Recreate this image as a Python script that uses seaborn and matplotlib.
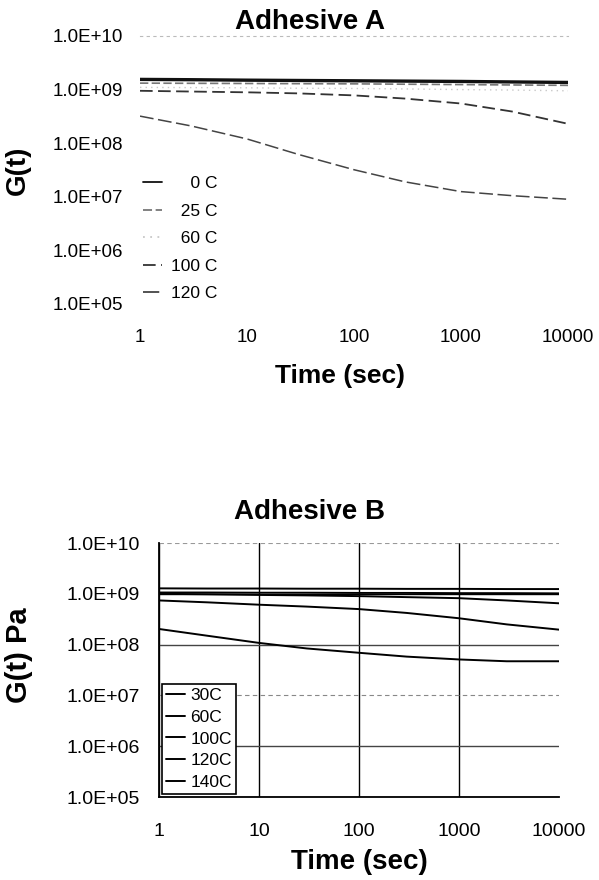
import numpy as np
import pandas as pd
import matplotlib
matplotlib.use("Agg")
import matplotlib.pyplot as plt
import seaborn as sns
from matplotlib.ticker import FuncFormatter, FixedLocator, NullLocator

# tempo (s)
tempo = [1, 3, 10, 30, 100, 300, 1000, 3000, 10000]

# Adhesive A - modulo de relaxacao G(t) [Pa]
temps_a = ["0 C", "25 C", "60 C", "100 C", "120 C"]
g_a_0 = [1.55e9, 1.53e9, 1.50e9, 1.48e9, 1.46e9, 1.44e9, 1.42e9, 1.39e9, 1.36e9]
g_a_25 = [1.32e9, 1.31e9, 1.30e9, 1.29e9, 1.28e9, 1.26e9, 1.24e9, 1.22e9, 1.20e9]
g_a_60 = [1.10e9, 1.09e9, 1.08e9, 1.06e9, 1.05e9, 1.03e9, 1.00e9, 0.98e9, 0.95e9]
g_a_100 = [9.5e8, 9.2e8, 8.9e8, 8.5e8, 7.8e8, 6.8e8, 5.5e8, 3.9e8, 2.3e8]
g_a_120 = [3.2e8, 2.1e8, 1.2e8, 6.2e7, 3.2e7, 1.9e7, 1.25e7, 1.05e7, 9.0e6]

# Adhesive B - G(t) [Pa]
temps_b = ["30C", "60C", "100C", "120C", "140C"]
g_b_30 = [1.28e9, 1.27e9, 1.27e9, 1.26e9, 1.26e9, 1.25e9, 1.25e9, 1.24e9, 1.24e9]
g_b_60 = [1.06e9, 1.06e9, 1.05e9, 1.05e9, 1.04e9, 1.04e9, 1.03e9, 1.03e9, 1.02e9]
g_b_100 = [1.00e9, 0.98e9, 0.95e9, 0.93e9, 0.90e9, 0.86e9, 0.82e9, 0.74e9, 0.65e9]
g_b_120 = [7.4e8, 6.8e8, 6.1e8, 5.6e8, 5.0e8, 4.2e8, 3.3e8, 2.5e8, 1.97e8]
g_b_140 = [2.03e8, 1.5e8, 1.08e8, 8.4e7, 6.9e7, 5.8e7, 5.1e7, 4.7e7, 4.7e7]

yticks = [1e5, 1e6, 1e7, 1e8, 1e9, 1e10]
xticks = [1, 10, 100, 1000, 10000]


def montar_df(temps, series):
    linhas = []
    for nome, valores in zip(temps, series):
        for t, g in zip(tempo, valores):
            linhas.append({"t": t, "G": g, "temp": nome})
    return pd.DataFrame(linhas)


df_a = montar_df(temps_a, [g_a_0, g_a_25, g_a_60, g_a_100, g_a_120])
df_b = montar_df(temps_b, [g_b_30, g_b_60, g_b_100, g_b_120, g_b_140])

sns.set_style("white")
plt.rcParams["font.family"] = ["Liberation Sans", "DejaVu Sans"]
plt.rcParams["text.color"] = "black"
plt.rcParams["axes.labelcolor"] = "black"
plt.rcParams["xtick.color"] = "black"
plt.rcParams["ytick.color"] = "black"

fig = plt.figure(figsize=(5.99, 8.80), dpi=100)
ax1 = fig.add_axes([140 / 599, 1 - 304 / 880, 428 / 599, 268 / 880])
ax2 = fig.add_axes([159 / 599, 1 - 797 / 880, 400 / 599, 254 / 880])

fmt_y = FuncFormatter(lambda v, p: f"{v:.1E}")
fmt_x = FuncFormatter(lambda v, p: f"{v:g}")

# ---------- Adhesive A ----------
cores_a = ["#111111", "#777777", "#c8c8c8", "#333333", "#444444"]
dashes_a = ["", (5, 2), (1, 3), (7, 3), (9, 3)]
ax1.set_xscale("log")
ax1.set_yscale("log")
sns.lineplot(data=df_a, x="t", y="G", hue="temp", style="temp",
             palette=cores_a, dashes=dashes_a, ax=ax1, linewidth=1.3)
for ln, lw in zip(ax1.get_lines(), [2.4, 1.2, 1.0, 1.3, 1.1]):
    ln.set_linewidth(lw)
ax1.set_xlim(1, 10000)
ax1.set_ylim(1e5, 1e10)
ax1.yaxis.set_major_locator(FixedLocator(yticks))
ax1.xaxis.set_major_locator(FixedLocator(xticks))
ax1.yaxis.set_minor_locator(NullLocator())
ax1.xaxis.set_minor_locator(NullLocator())
ax1.yaxis.set_major_formatter(fmt_y)
ax1.xaxis.set_major_formatter(fmt_x)
for s in ["left", "bottom", "right"]:
    ax1.spines[s].set_visible(False)
ax1.spines["top"].set_color("#bbbbbb")
ax1.spines["top"].set_linestyle((0, (2, 4)))
ax1.spines["top"].set_linewidth(0.8)
ax1.tick_params(axis="both", length=0, labelsize=13.5)
ax1.tick_params(axis="y", pad=12)
ax1.tick_params(axis="x", pad=18)
ax1.set_xlabel("Time (sec)", fontsize=19, fontweight="bold")
ax1.set_ylabel("G(t)", fontsize=20, fontweight="bold")
ax1.xaxis.set_label_coords(0.467, -0.224)
ax1.yaxis.set_label_coords(-0.255, 0.5)

h1, l1 = ax1.get_legend_handles_labels()
largura = max(len(l) for l in l1)
l1 = [" " * (2 * (largura - len(l))) + l for l in l1]
ax1.legend(h1, l1, loc="upper left", bbox_to_anchor=(143 / 599, 1 - 176 / 880),
           bbox_transform=fig.transFigure, frameon=False, fontsize=12.5,
           handlelength=1.1, handletextpad=0.5, labelspacing=0.71,
           borderaxespad=0, borderpad=0)

# ---------- Adhesive B ----------
cores_b = ["black"] * 5
ax2.set_xscale("log")
ax2.set_yscale("log")
sns.lineplot(data=df_b, x="t", y="G", hue="temp", palette=cores_b,
             ax=ax2, linewidth=1.4)
ax2.set_xlim(1, 10000)
ax2.set_ylim(1e5, 1e10)
ax2.yaxis.set_major_locator(FixedLocator(yticks))
ax2.xaxis.set_major_locator(FixedLocator(xticks))
ax2.yaxis.set_minor_locator(NullLocator())
ax2.xaxis.set_minor_locator(NullLocator())
ax2.yaxis.set_major_formatter(fmt_y)
ax2.xaxis.set_major_formatter(fmt_x)
ax2.grid(True, which="major", axis="both", color="black", linewidth=1.0)
ax2.set_axisbelow(True)
estilos_h = [("#555555", "-", 1.0), ("#444444", "-", 1.0), ("#888888", (0, (4, 3)), 0.8),
             ("#444444", "-", 1.0), ("black", "-", 1.0), ("#999999", (0, (4, 3)), 0.8)]
for gl, (c, ls, lw) in zip(ax2.get_ygridlines(), estilos_h):
    gl.set_color(c)
    gl.set_linestyle(ls)
    gl.set_linewidth(lw)
ax2.get_xgridlines()[-1].set_visible(False)
ax2.spines["right"].set_visible(False)
ax2.spines["top"].set_visible(False)
for s in ["left", "bottom"]:
    ax2.spines[s].set_color("black")
    ax2.spines[s].set_linewidth(1.3)
ax2.tick_params(axis="both", labelsize=14)
ax2.tick_params(axis="y", direction="out", length=4, width=1, pad=10)
ax2.tick_params(axis="x", direction="inout", length=7, width=1, pad=15)
ax2.set_xlabel("Time (sec)", fontsize=20, fontweight="bold")
ax2.set_ylabel("G(t) Pa", fontsize=21, fontweight="bold")
ax2.xaxis.set_label_coords(0.50, -0.205)
ax2.yaxis.set_label_coords(-0.315, 0.56)

h2, l2 = ax2.get_legend_handles_labels()
leg = ax2.legend(h2, l2, loc="lower left", fontsize=12.5, frameon=True,
                 fancybox=False, edgecolor="black", framealpha=1,
                 handlelength=1.1, handletextpad=0.3, labelspacing=0.38,
                 borderpad=0.25, borderaxespad=0.15)
leg.get_frame().set_linewidth(1.2)

# titulos
fig.text(310 / 599, 1 - 22 / 880, "Adhesive A", ha="center", va="center",
         fontsize=20, fontweight="bold")
fig.text(310 / 599, 1 - 512 / 880, "Adhesive B", ha="center", va="center",
         fontsize=20, fontweight="bold")

fig.savefig("out.png", dpi=100)
